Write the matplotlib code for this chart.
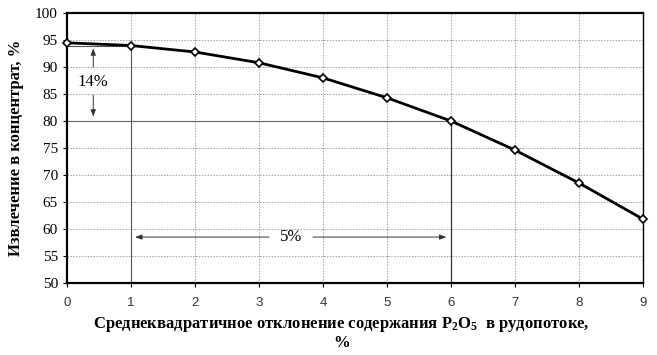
import matplotlib
matplotlib.use("Agg")
import matplotlib.pyplot as plt

# Data
sigma = [0, 1, 2, 3, 4, 5, 6, 7, 8, 9]
recovery = [94.5, 94.0, 92.8, 90.8, 88.0, 84.3, 80.0, 74.6, 68.5, 61.8]
y_ticks = [50, 55, 60, 65, 70, 75, 80, 85, 90, 95, 100]

serif = ["Liberation Serif", "DejaVu Serif"]
sans = ["Liberation Sans", "DejaVu Sans"]

plt.rcParams["mathtext.fontset"] = "custom"
plt.rcParams["mathtext.rm"] = "Liberation Serif"
plt.rcParams["mathtext.bf"] = "Liberation Serif:bold"

fig = plt.figure(figsize=(6.57, 3.55), dpi=100)
ax = fig.add_axes([0.102, 0.203, 0.877, 0.760])

ax.set_xlim(0, 9)
ax.set_ylim(50, 100)
ax.set_xticks(sigma)
ax.set_yticks(y_ticks)
ax.grid(True, color="#a0a0a0", linestyle=(0, (1.5, 1.5)), linewidth=0.7)
ax.set_axisbelow(True)

# helper lines
ax.plot([0, 6], [80, 80], color="#666666", lw=0.8)
ax.plot([6, 6], [50, 80], color="#333333", lw=0.9)
ax.plot([1, 1], [50, 94.0], color="#555555", lw=0.8)
ax.plot([0, 1], [94.0, 94.0], color="#555555", lw=0.8)

ax.plot(sigma, recovery, color="black", lw=2, marker="D", markersize=4.5,
        markerfacecolor="white", markeredgecolor="black", markeredgewidth=1.2,
        zorder=5, clip_on=False)

# 14% arrow
arr = dict(arrowstyle="-|>,head_length=0.4,head_width=0.15", color="#333333", lw=0.7)
ax.annotate("", xy=(0.41, 94.0), xytext=(0.41, 89.5), arrowprops=arr)
ax.annotate("", xy=(0.41, 80.3), xytext=(0.41, 85.3), arrowprops=arr)
ax.text(0.41, 87.3, "14%", ha="center", va="center", fontsize=12, family=serif)

# 5% arrow
ax.annotate("", xy=(1.02, 58.5), xytext=(3.2, 58.5), arrowprops=arr)
ax.annotate("", xy=(5.97, 58.5), xytext=(3.8, 58.5), arrowprops=arr)
ax.text(3.5, 58.5, "5%", ha="center", va="center", fontsize=12, family=serif)

for side in ["top", "left", "bottom"]:
    ax.spines[side].set_linewidth(1.6)
ax.spines["right"].set_linewidth(1.0)

ax.tick_params(axis="both", length=3, width=0.8)
for lab in ax.get_yticklabels():
    lab.set_family(serif)
    lab.set_fontsize(11)
for lab in ax.get_xticklabels():
    lab.set_family(sans)
    lab.set_fontsize(9.5)
    lab.set_color("#333333")
ax.tick_params(axis="x", pad=7)

ax.set_ylabel("Извлечение в концентрат, %", family=serif, fontsize=12,
              fontweight="bold", labelpad=8)
fig.text(0.52, 0.085,
         r"Среднеквадратичное отклонение содержания $\mathbf{P_2O_5}$  в рудопотоке,",
         ha="center", va="center", family=serif, fontsize=12, fontweight="bold")
fig.text(0.52, 0.033, "%", ha="center", va="center", family=serif, fontsize=12,
         fontweight="bold")

plt.savefig("out.png", dpi=100)
